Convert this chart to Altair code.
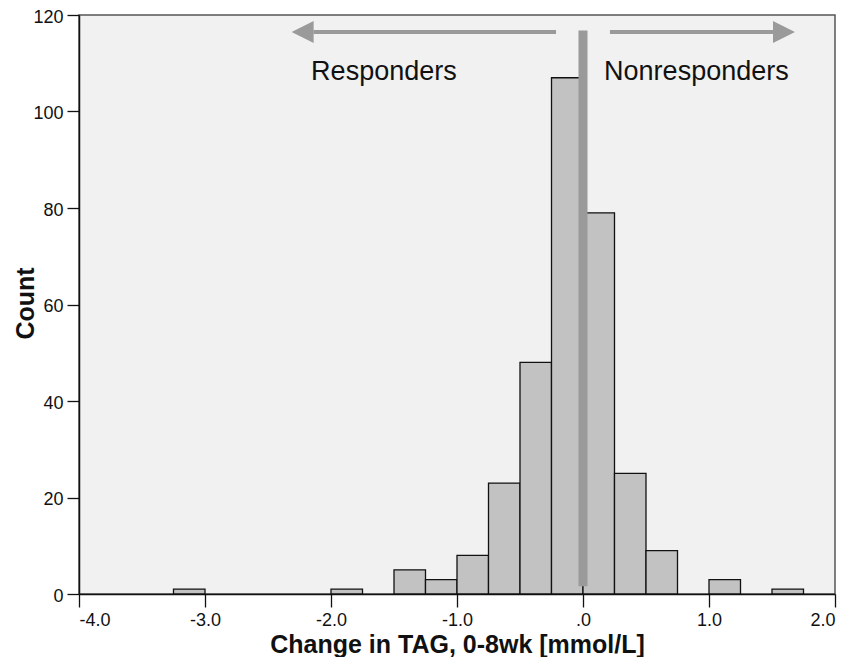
import altair as alt
import pandas as pd

# Histogram data (bin start, count), bin width 0.25
bin_start = [-3.25, -2.0, -1.5, -1.25, -1.0, -0.75, -0.5, -0.25, 0.0, 0.25, 0.5, 1.0, 1.5]
counts = [1, 1, 5, 3, 8, 23, 48, 107, 79, 25, 9, 3, 1]
bin_width = 0.25

# Annotations
labels = ["Responders", "Nonresponders"]
label_x = [-1.58, 0.9]
label_y = [108.2, 108.2]

arrow_from = [-0.214, 0.214]
arrow_to = [-2.14, 1.51]
arrow_head_x = [-2.225, 1.595]
arrow_head_shape = ["M1,-1L-1,0L1,1Z", "M-1,-1L1,0L-1,1Z"]
arrow_y = [116.5, 116.5]

cut_x = [0.0]
cut_y0 = [1.6]
cut_y1 = [116.8]

x_ticks = [-4.0, -3.0, -2.0, -1.0, 0.0, 1.0, 2.0]
y_ticks = [0, 20, 40, 60, 80, 100, 120]

FONT = "Liberation Sans"
GRAY = "#9a9a9a"

hist = pd.DataFrame({"bin_start": bin_start, "count": counts})
xscale = alt.Scale(domain=[-4, 2], nice=False, zero=False)
yscale = alt.Scale(domain=[0, 120], nice=False)

bars = alt.Chart(hist).transform_calculate(
    bin_end=f"datum.bin_start + {bin_width}"
).mark_rect(fill="#c2c2c2", stroke="#111111", strokeWidth=1.3).encode(
    x=alt.X("bin_start:Q", scale=xscale,
            axis=alt.Axis(values=x_ticks, title="Change in TAG, 0-8wk [mmol/L]",
                          labelExpr="datum.value == 0 ? '.0' : (datum.value < 0 ? '-' : '') + format(abs(datum.value), '.1f')",
                          grid=False, tickSize=13, labelPadding=4, labelFontSize=18,
                          titleFontSize=25, titleFontWeight="bold",
                          titleBaseline="alphabetic", titleY=58)),
    x2="bin_end:Q",
    y=alt.Y("count:Q", scale=yscale,
            axis=alt.Axis(values=y_ticks, title="Count", grid=False, tickSize=12,
                          labelPadding=4, labelFontSize=18, labelOffset=2,
                          titleFontSize=25, titleFontWeight="bold",
                          titleBaseline="alphabetic", titleX=-46, titleY=288)),
)

cut = alt.Chart(pd.DataFrame({"x": cut_x, "y0": cut_y0, "y1": cut_y1})).mark_rule(
    color=GRAY, strokeWidth=9
).encode(x="x:Q", y="y0:Q", y2="y1:Q")

arrows_df = pd.DataFrame({"x0": arrow_from, "x1": arrow_to, "y": arrow_y,
                          "hx": arrow_head_x, "shape": arrow_head_shape})
arrow_lines = alt.Chart(arrows_df).mark_rule(color=GRAY, strokeWidth=4).encode(
    x="x0:Q", x2="x1:Q", y="y:Q")
arrow_heads = alt.Chart(arrows_df).mark_point(
    filled=True, color=GRAY, opacity=1, size=484, strokeWidth=0
).encode(x="hx:Q", y="y:Q", shape=alt.Shape("shape:N", scale=None))

text = alt.Chart(pd.DataFrame({"t": labels, "x": label_x, "y": label_y})).mark_text(
    font=FONT, fontSize=27, color="#111111", baseline="middle", align="center"
).encode(x="x:Q", y="y:Q", text="t:N")

chart = alt.layer(bars, cut, arrow_lines, arrow_heads, text).properties(
    width=756, height=579,
    autosize=alt.AutoSizeParams(type="none"),
    padding={"left": 71, "top": 7, "right": 5, "bottom": 63},
    background="white",
).configure_view(
    fill="#f1f1f1", stroke="#555555", strokeWidth=1.5
).configure_axis(
    labelFont=FONT, titleFont=FONT, labelColor="#111111", titleColor="#111111",
    domainColor="#111111", domainWidth=1.5, tickColor="#111111", tickWidth=1.3,
)

chart.save("out.html", embed_options={"renderer": "svg", "actions": False})
